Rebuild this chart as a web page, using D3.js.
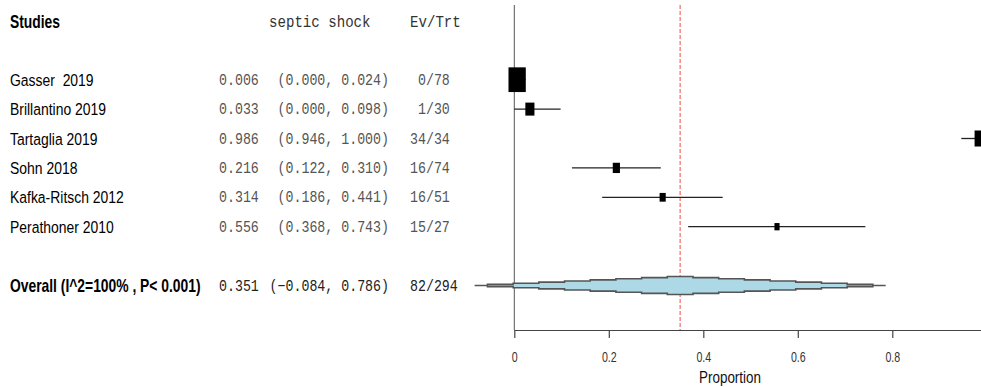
<!DOCTYPE html>
<html>
<head>
<meta charset="utf-8">
<script src="https://cdn.jsdelivr.net/npm/d3@7"></script>
<style>
  body { margin: 0; background: #fff; }
  svg { display: block; }
  text { white-space: pre; }
</style>
</head>
<body>
<svg id="chart" width="981" height="387"></svg>
<script>
// study-level data
const studies = ["Gasser  2019", "Brillantino 2019", "Tartaglia 2019", "Sohn 2018", "Kafka-Ritsch 2012", "Perathoner 2010"];
const estimates = [0.006, 0.033, 0.986, 0.216, 0.314, 0.556];
const lower = [0.000, 0.000, 0.946, 0.122, 0.186, 0.368];
const upper = [0.024, 0.098, 1.000, 0.310, 0.441, 0.743];
const events = [0, 1, 34, 16, 16, 15];
const totals = [78, 30, 34, 74, 51, 27];
const weights = [48, 13.3, 20.2, 8.3, 6, 4.2];

// pooled result
const overallLabel = "Overall (I^2=100% , P< 0.001)";
const overallEst = 0.351;
const overallLower = -0.084;
const overallUpper = 0.786;
const overallEvents = 82;
const overallTotal = 294;

const xTicks = [0, 0.2, 0.4, 0.6, 0.8];
const xLabel = "Proportion";
const headers = ["Studies", "septic shock", "Ev/Trt"];

const svg = d3.select("#chart");

const x = d3.scaleLinear().domain([0, 1]).range([514.3, 986.8]);
const row = d3.scaleLinear().domain([0, 1]).range([79.7, 109.1]);
const box = d3.scaleSqrt().domain([0, d3.max(weights)]).range([0, 24.7]);

const sans = "'Liberation Sans', Arial, sans-serif";
const mono = "'Liberation Mono', 'Courier New', monospace";
const fmt = d3.format(".3f");

// squeezed text, like the original
function label(str, px, py, o) {
  return svg.append("text")
    .attr("transform", `translate(${px},${py}) scale(${o.sx},1)`)
    .attr("font-family", o.family)
    .attr("font-size", o.size)
    .attr("font-weight", o.weight || "normal")
    .attr("text-anchor", o.anchor || "start")
    .attr("fill", o.fill || "#000")
    .text(str);
}

// headers
label(headers[0], 10, 28, { family: sans, size: 18, weight: "bold", sx: 0.77 });
label(headers[1], 269, 27, { family: mono, size: 17, sx: 0.83, fill: "#333" });
label(headers[2], 410, 27, { family: mono, size: 17, sx: 0.83, fill: "#333" });

// study rows text
studies.forEach((s, i) => {
  const y = row(i);
  label(s, 10, y + 6, { family: sans, size: 17, sx: 0.82 });
  label(fmt(estimates[i]), 219, y + 5, { family: mono, size: 16, sx: 0.83, fill: "#555" });
  label(`(${fmt(lower[i])}, ${fmt(upper[i])})`, 389, y + 5, { family: mono, size: 16, sx: 0.83, fill: "#555", anchor: "end" });
  label(`${events[i]}/${totals[i]}`.padStart(5), 410, y + 5, { family: mono, size: 16, sx: 0.83, fill: "#555" });
});

// overall row text
const yo = row(7);
label(overallLabel, 10, yo + 6, { family: sans, size: 18, weight: "bold", sx: 0.77 });
label(fmt(overallEst), 219, yo + 5, { family: mono, size: 16, sx: 0.83, fill: "#222" });
label(`(${fmt(overallLower)}, ${fmt(overallUpper)})`, 389, yo + 5, { family: mono, size: 16, sx: 0.83, fill: "#222", anchor: "end" });
label(`${overallEvents}/${overallTotal}`.padStart(5), 410, yo + 5, { family: mono, size: 16, sx: 0.83, fill: "#222" });

// reference lines
svg.append("line")
  .attr("x1", x(0)).attr("x2", x(0))
  .attr("y1", 5).attr("y2", 330)
  .attr("stroke", "#555").attr("stroke-width", 1);

svg.append("line")
  .attr("x1", x(overallEst)).attr("x2", x(overallEst))
  .attr("y1", 5).attr("y2", 330)
  .attr("stroke", "#f2807a").attr("stroke-width", 1.4)
  .attr("stroke-dasharray", "4,2");

// confidence intervals
svg.selectAll(".ci")
  .data(studies)
  .enter()
  .append("line")
  .attr("class", "ci")
  .attr("x1", (d, i) => x(lower[i]))
  .attr("x2", (d, i) => x(upper[i]))
  .attr("y1", (d, i) => row(i))
  .attr("y2", (d, i) => row(i))
  .attr("stroke", "#222")
  .attr("stroke-width", 1.3);

// weight boxes
svg.selectAll(".box")
  .data(studies)
  .enter()
  .append("rect")
  .attr("class", "box")
  .attr("x", (d, i) => x(estimates[i]) - 0.7 * box(weights[i]) / 2)
  .attr("y", (d, i) => row(i) - box(weights[i]) / 2)
  .attr("width", (d, i) => 0.7 * box(weights[i]))
  .attr("height", (d, i) => box(weights[i]))
  .attr("fill", "#000");

// pooled diamond (stepped like the original raster)
const steps = d3.range(17).map(k => ({
  v: overallLower + (overallUpper - overallLower) * k / 16,
  h: 9 * (1 - Math.abs(k - 8) / 8)
}));
const area = d3.area()
  .curve(d3.curveStep)
  .x(d => x(d.v))
  .y0(d => yo + d.h)
  .y1(d => yo - d.h);
svg.append("path")
  .attr("d", area(steps))
  .attr("fill", "#add8e6")
  .attr("stroke", "#555")
  .attr("stroke-width", 1.6);

// x axis
const axis = svg.append("g")
  .attr("transform", "translate(0,330)")
  .call(d3.axisBottom(x).tickValues(xTicks).tickSize(8).tickSizeOuter(0).tickFormat(d3.format("")));
axis.select(".domain").attr("stroke", "#444").attr("stroke-width", 1.2);
axis.selectAll(".tick line").attr("stroke", "#444").attr("stroke-width", 1.2);
axis.selectAll(".tick text")
  .attr("y", 0).attr("dy", 0)
  .attr("transform", "translate(0,32) scale(0.76,1)")
  .attr("font-family", sans)
  .attr("font-size", 14)
  .attr("fill", "#333");

label(xLabel, 730, 383, { family: sans, size: 16, sx: 0.84, anchor: "middle", fill: "#111" });
</script>
</body>
</html>
